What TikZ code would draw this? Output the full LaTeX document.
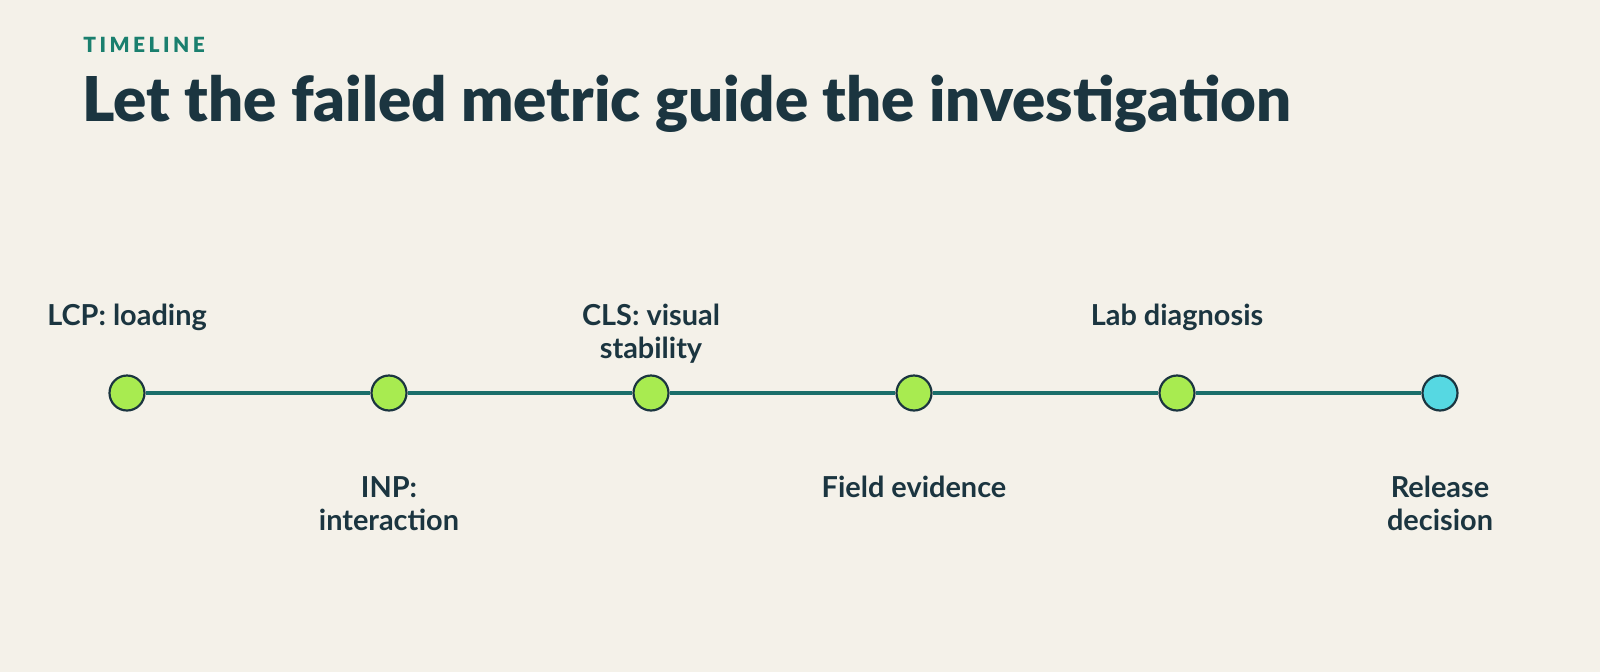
\documentclass[tikz,border=0pt]{standalone}
\usepackage{fontspec}
\setmainfont{Lato}
\newfontfamily\latoblack{Lato Black}
\begin{document}
\begin{tikzpicture}[x=0.5bp,y=-0.5bp,
  dot/.style={circle,draw=dark,line width=1.1pt,minimum size=17.5bp,inner sep=0pt},
  lbl/.style={font=\bfseries\fontsize{14.5}{16.5}\selectfont,text=dark,align=center,inner sep=0pt}]
\definecolor{bg}{HTML}{F4F1E9}
\definecolor{dark}{HTML}{1B3540}
\definecolor{teal}{HTML}{1A6E6A}
\definecolor{green}{HTML}{A8EB50}
\definecolor{cyan}{HTML}{56D8E2}
\definecolor{tl}{HTML}{1A7F6E}
\fill[bg] (0,0) rectangle (1600,672);
\useasboundingbox (0,0) rectangle (1600,672);
\node[anchor=west,text=tl,font=\latoblack\fontsize{10.5}{12}\selectfont,inner sep=0pt] (kick) at (83,45) {T\,I\,M\,E\,L\,I\,N\,E};
\node[anchor=west,text=dark,font=\latoblack\fontsize{31}{34}\selectfont,inner sep=0pt] (title) at (82,104) {Let the failed metric guide the investigation};
\foreach \n/\x/\c in {a/127/green,b/389/green,c/651/green,d/914/green,e/1177/green,f/1440/cyan}
  \node[dot,fill=\c] (\n) at (\x,393) {};
\draw[teal,line width=2pt] (a) -- (b) -- (c) -- (d) -- (e) -- (f);
\node[lbl,anchor=north] (la) at (127,304) {LCP: loading};
\node[lbl,anchor=north] (lc) at (651,304) {CLS: visual\\stability};
\node[lbl,anchor=north] (le) at (1177,304) {Lab diagnosis};
\node[lbl,anchor=north] (lb) at (389,476) {INP:\\interaction};
\node[lbl,anchor=north] (ld) at (914,476) {Field evidence};
\node[lbl,anchor=north] (lf) at (1440,476) {Release\\decision};
\end{tikzpicture}
\end{document}
